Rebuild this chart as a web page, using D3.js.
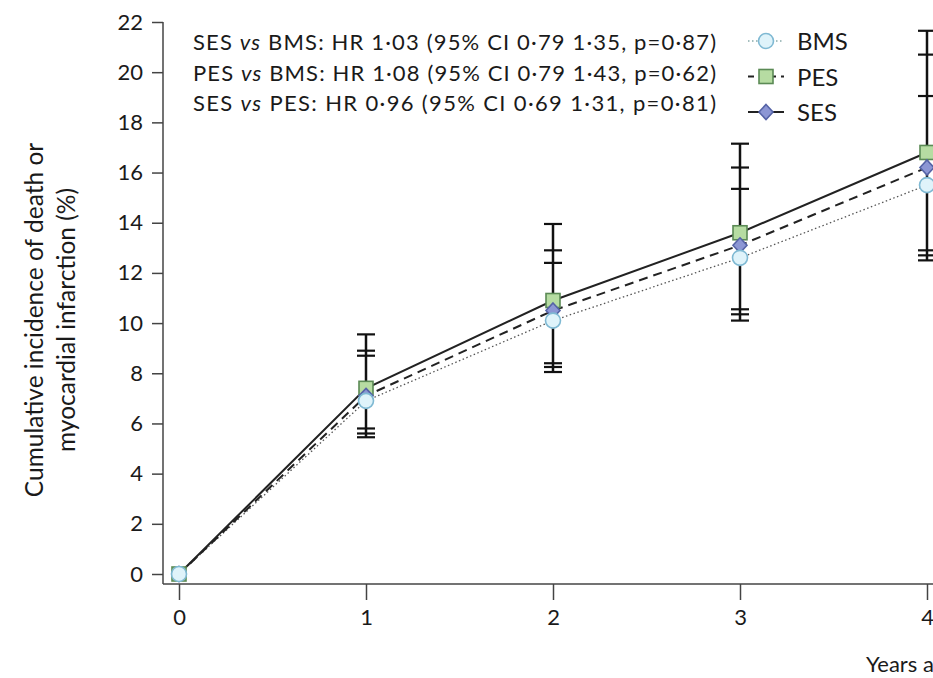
<!DOCTYPE html>
<html><head><meta charset="utf-8">
<script src="https://cdn.jsdelivr.net/npm/d3@7"></script>
<style>body{margin:0;background:#fff;} svg{display:block;font-family:Lato,"Open Sans",sans-serif;}</style>
</head><body>
<svg id="c" width="933" height="678"></svg>
<script>
const years = [0, 1, 2, 3, 4];
const yTicks = [0, 2, 4, 6, 8, 10, 12, 14, 16, 18, 20, 22];
const bmsValues = [0, 6.9, 10.1, 12.6, 15.5];
const pesValues = [0, 7.4, 10.9, 13.6, 16.8];
const sesValues = [0, 7.1, 10.5, 13.1, 16.2];
const bmsUpper = [null, 8.7, 12.4, 15.35, 19.05];
const pesUpper = [null, 9.55, 13.95, 17.15, 21.65];
const sesUpper = [null, 8.9, 12.9, 16.2, 20.7];
const bmsLower = [null, 5.45, 8.05, 10.1, 12.5];
const pesLower = [null, 5.8, 8.4, 10.55, 12.9];
const sesLower = [null, 5.6, 8.25, 10.35, 12.7];
const annotations = [
  ["SES ", "vs", " BMS: HR 1·03 (95% CI 0·79 1·35, p=0·87)"],
  ["PES ", "vs", " BMS: HR 1·08 (95% CI 0·79 1·43, p=0·62)"],
  ["SES ", "vs", " PES: HR 0·96 (95% CI 0·69 1·31, p=0·81)"]
];
const legendNames = ["BMS", "PES", "SES"];
const yTitle = ["Cumulative incidence of death or", "myocardial infarction (%)"];
const xTitle = "Years after randomisation";

const svg = d3.select("#c");
const x = d3.scaleLinear().domain([0, 4]).range([179, 927]);
const y = d3.scaleLinear().domain([0, 22]).range([574, 22]);

const series = [
  {name:"BMS", values:bmsValues, upper:bmsUpper, lower:bmsLower, shape:"circle", fill:"#dff3fa", stroke:"#7fb9d3", lineDash:"1.5,2.5", lineW:1.3, lineColor:"#555", legDash:"1.5,2.5"},
  {name:"SES", values:sesValues, upper:sesUpper, lower:sesLower, shape:"diamond", fill:"#8c96d4", stroke:"#5563a6", lineDash:"9,6", lineW:2, lineColor:"#222", legDash:null},
  {name:"PES", values:pesValues, upper:pesUpper, lower:pesLower, shape:"square", fill:"#b6dca2", stroke:"#5b8a55", lineDash:null, lineW:2, lineColor:"#222", legDash:"6,5"}
];

// axes
const axisColor = "#444";
const gy = svg.append("g").attr("transform","translate(163,0)")
  .call(d3.axisLeft(y).tickValues(yTicks).tickSize(11).tickPadding(9).tickSizeOuter(0));
gy.select(".domain").attr("stroke",axisColor).attr("stroke-width",1.5).attr("d","M0,22V584");
gy.selectAll(".tick line").attr("stroke",axisColor).attr("stroke-width",1.5);
gy.selectAll(".tick text").attr("font-size",22).attr("fill","#1a1a1a").attr("font-family","Lato,sans-serif");

const gx = svg.append("g").attr("transform","translate(0,584)")
  .call(d3.axisBottom(x).tickValues(years).tickSize(16).tickPadding(9).tickSizeOuter(0).tickFormat(d3.format("d")));
gx.select(".domain").attr("stroke",axisColor).attr("stroke-width",1.5).attr("d","M163,0H933");
gx.selectAll(".tick line").attr("stroke",axisColor).attr("stroke-width",1.5);
gx.selectAll(".tick text").attr("font-size",22).attr("fill","#1a1a1a").attr("font-family","Lato,sans-serif");

// axis titles
yTitle.forEach((t,i)=>{
  svg.append("text").attr("transform",`translate(${43+i*32},320) rotate(-90)`)
    .attr("text-anchor","middle").attr("font-size",24.5).attr("fill","#1a1a1a").text(t);
});
svg.append("text").attr("x",866).attr("y",672).attr("font-size",22).attr("fill","#1a1a1a").text(xTitle);

// error bars
const capW = 9;
years.forEach((yr,i)=>{
  if (i===0) return;
  const lo = d3.min(series, s=>s.lower[i]), hi = d3.max(series, s=>s.upper[i]);
  svg.append("line").attr("x1",x(yr)).attr("x2",x(yr)).attr("y1",y(lo)).attr("y2",y(hi))
    .attr("stroke","#111").attr("stroke-width",2.5);
  series.forEach(s=>{
    [s.upper[i], s.lower[i]].forEach(v=>{
      svg.append("line").attr("x1",x(yr)-capW).attr("x2",x(yr)+capW).attr("y1",y(v)).attr("y2",y(v))
        .attr("stroke","#111").attr("stroke-width",2.2);
    });
  });
});

// lines
const line = d3.line().x((d,i)=>x(years[i])).y(d=>y(d)).curve(d3.curveLinear);
series.forEach(s=>{
  svg.append("path").attr("d",line(s.values)).attr("fill","none")
    .attr("stroke",s.lineColor).attr("stroke-width",s.lineW)
    .attr("stroke-dasharray",s.lineDash);
});

// markers
function drawMarker(g, s, cx, cy){
  if (s.shape==="circle") g.append("circle").attr("cx",cx).attr("cy",cy).attr("r",7.5);
  else if (s.shape==="square") g.append("rect").attr("x",cx-7).attr("y",cy-7).attr("width",14).attr("height",14);
  else g.append("path").attr("d",`M${cx},${cy-7.5}L${cx+7},${cy}L${cx},${cy+7.5}L${cx-7},${cy}Z`);
  g.selectAll("*").attr("fill",s.fill).attr("stroke",s.stroke).attr("stroke-width",1.6);
}
const drawOrder = [series[2], series[1], series[0]];
drawOrder.forEach(s=>{
  s.values.forEach((v,i)=>{
    drawMarker(svg.append("g"), s, x(years[i]), y(v));
  });
});

// annotations
annotations.forEach((a,i)=>{
  const t = svg.append("text").attr("x",193).attr("y",50+i*30.5).attr("font-size",22).attr("fill","#1a1a1a")
    .attr("textLength",523).attr("lengthAdjust","spacing");
  t.append("tspan").text(a[0]);
  t.append("tspan").attr("font-style","italic").text(a[1]);
  t.append("tspan").text(a[2]);
});

// legend
const legSeries = legendNames.map(n=>series.find(s=>s.name===n));
legSeries.forEach((s,i)=>{
  const ly = 41 + i*35.5;
  const g = svg.append("g");
  g.append("line").attr("x1",748).attr("x2",784).attr("y1",ly).attr("y2",ly)
    .attr("stroke",s.name==="BMS"?"#8aa":"#222").attr("stroke-width",s.name==="BMS"?1.5:2.2)
    .attr("stroke-dasharray",s.legDash);
  drawMarker(g.append("g"), s, 766, ly);
  svg.append("text").attr("x",797).attr("y",ly+9).attr("font-size",24).attr("fill","#1a1a1a").text(s.name);
});
</script>
</body></html>
